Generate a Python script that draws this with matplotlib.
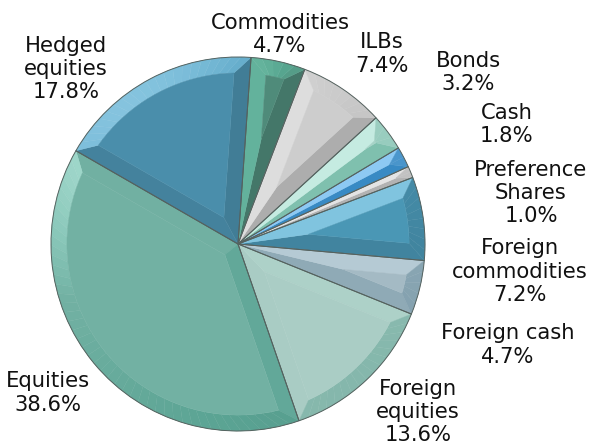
import colorsys
import numpy as np
import matplotlib.pyplot as plt
import matplotlib.colors as mcolors
from matplotlib.patches import Polygon

# ------------------------------------------------------ #
#                        Data                            #
# ------------------------------------------------------ #
categories = ["Commodities", "ILBs", "Bonds", "Cash", "Preference\nShares",
              "Foreign\ncommodities", "Foreign cash", "Foreign\nequities",
              "Equities", "Hedged\nequities"]
shares = [4.7, 7.4, 3.2, 1.8, 1.0, 7.2, 4.7, 13.6, 38.6, 17.8]
slice_colors = ["#4f8b7a", "#cdcdcd", "#a6d3c7", "#5a9fd0", "#d2d2d2",
                "#4a97b5", "#a4bac4", "#aacdc5", "#72b1a3", "#4a8eab"]

# ------------------------------------------------------ #
#                        Layout                          #
# ------------------------------------------------------ #
W, H = 591, 448
cx, cy, R = 238, H - 244, 187
bevel = 0.085 * R
# label block centres, pixels from top-left
label_xy = [(280, 34.5), (382, 54), (468, 72.5), (507, 124.5), (531, 193),
            (520, 271.5), (508, 345), (418, 412), (48, 393), (66, 69)]

light = np.array([-0.5, 0.6, 0.75])
light = light / np.linalg.norm(light)
phi = np.radians(45)


def shade(color, k):
    h, l, s = colorsys.rgb_to_hls(*mcolors.to_rgb(color))
    if k >= 0:
        k = min(k, 1)
        l = l + (1 - l) * k
        s = min(1.0, s * (1 + 1.1 * k))
    else:
        l = l * (1 + max(k, -1))
    return colorsys.hls_to_rgb(h, l, s)


def facet_k(d):
    n = np.array([d[0] * np.sin(phi), d[1] * np.sin(phi), np.cos(phi)])
    raw = n @ light - light[2]
    return raw * 1.35 if raw > 0 else raw * 0.22


def pt(ang, r):
    return (cx + r * np.cos(ang), cy + r * np.sin(ang))


def add_facet(ax, pts, color):
    ax.add_patch(Polygon(pts, closed=True, facecolor=color, edgecolor=color,
                         linewidth=0.3, zorder=2))


fig = plt.figure(figsize=(W / 100, H / 100), dpi=100)
ax = fig.add_axes([0, 0, 1, 1])

wedges, _ = ax.pie(shares, startangle=86, counterclock=False, colors=slice_colors,
                   center=(cx, cy), radius=R,
                   wedgeprops=dict(edgecolor="#55625f", linewidth=0.7))

for w, base in zip(wedges, slice_colors):
    t1, t2 = np.radians(w.theta1), np.radians(w.theta2)
    alpha = (t2 - t1) / 2
    mid = (t1 + t2) / 2
    n1 = np.array([-np.sin(t1), np.cos(t1)])
    n2 = np.array([np.sin(t2), -np.cos(t2)])
    k1 = facet_k(-n1)
    k2 = facet_k(-n2)
    O = (cx, cy)
    nseg = max(2, int(np.degrees(t2 - t1) / 3))
    da = np.arcsin(bevel / (R - bevel))
    if alpha > da:
        A = pt(mid, bevel / np.sin(alpha))
        g1, g2 = t1 + da, t2 - da
        add_facet(ax, [O, pt(t1, R), pt(g1, R - bevel), A], shade(base, k1))
        add_facet(ax, [O, A, pt(g2, R - bevel), pt(t2, R)], shade(base, k2))
        outer = np.linspace(t1, t2, nseg + 1)
        inner = np.linspace(g1, g2, nseg + 1)
        for i in range(nseg):
            am = (outer[i] + outer[i + 1]) / 2
            kk = facet_k((np.cos(am), np.sin(am)))
            add_facet(ax, [pt(outer[i], R), pt(outer[i + 1], R),
                           pt(inner[i + 1], R - bevel), pt(inner[i], R - bevel)],
                      shade(base, kk))
        top = [A] + [pt(g, R - bevel) for g in inner]
        add_facet(ax, top, base)
    else:
        V = pt(mid, R - bevel)
        add_facet(ax, [O, pt(t1, R), V], shade(base, k1))
        add_facet(ax, [O, V, pt(t2, R)], shade(base, k2))
        outer = np.linspace(t1, t2, nseg + 1)
        for i in range(nseg):
            am = (outer[i] + outer[i + 1]) / 2
            kk = facet_k((np.cos(am), np.sin(am)))
            add_facet(ax, [pt(outer[i], R), pt(outer[i + 1], R), V], shade(base, kk))
    w.set_facecolor("none")
    w.set_zorder(5)

for name, val, (lx, ly) in zip(categories, shares, label_xy):
    ax.text(lx, H - ly, f"{name}\n{val:.1f}%", ha="center", va="center",
            multialignment="center", fontsize=15.2, color="#111111",
            linespacing=1.2)

ax.set_xlim(0, W)
ax.set_ylim(0, H)
ax.set_aspect("equal")
ax.axis("off")

fig.savefig("out.png", dpi=100, facecolor="white")
